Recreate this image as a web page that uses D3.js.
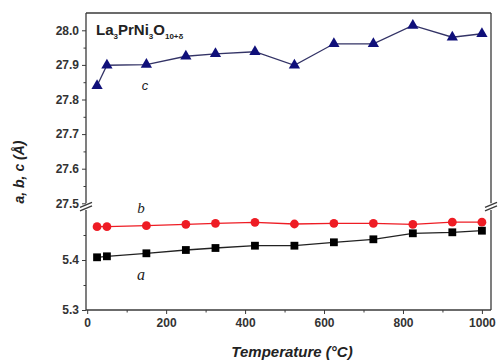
<!DOCTYPE html>
<html>
<head>
<meta charset="utf-8">
<script src="https://cdn.jsdelivr.net/npm/d3@7"></script>
<style>
  body { margin: 0; background: #fff; }
  svg { display: block; }
  text { font-family: "Liberation Sans", Arial, sans-serif; }
</style>
</head>
<body>
<div id="chart"></div>
<script>
// Data
const temps = [25, 50, 150, 250, 325, 425, 525, 625, 725, 825, 925, 1000];
const cValues = [27.840, 27.899, 27.901, 27.925, 27.932, 27.938, 27.899, 27.961, 27.961, 28.014, 27.980, 27.990];
const bValues = [5.4666, 5.4666, 5.4686, 5.4714, 5.4734, 5.4754, 5.4720, 5.4734, 5.4734, 5.4714, 5.4756, 5.4756];
const aValues = [5.4054, 5.4074, 5.4134, 5.4200, 5.4240, 5.4286, 5.4286, 5.4354, 5.4414, 5.4534, 5.4554, 5.4586];
const xTicks = [0, 200, 400, 600, 800, 1000];
const yTopTicks = [27.5, 27.6, 27.7, 27.8, 27.9, 28.0];
const yBotTicks = [5.3, 5.4];

const W = 498, H = 361;
const plotLeft = 86, plotRight = 491, plotTop = 13, plotBottom = 310;
const breakTop = 203.3, breakBot = 210;

const svg = d3.select('#chart').append('svg')
    .attr('width', W)
    .attr('height', H);

// Scales
const x = d3.scaleLinear().domain([-3, 1023]).range([plotLeft, plotRight]);
const yTop = d3.scaleLinear().domain([27.5, 28.05]).range([breakTop, plotTop]);
const yBot = d3.scaleLinear().domain([5.3, 5.5]).range([plotBottom, breakBot]);

const axisColor = '#3a3a3a';
const labelColor = '#333';

// X axis (bottom)
const xAxis = svg.append('g')
    .attr('transform', `translate(0,${plotBottom})`)
    .call(d3.axisBottom(x).tickValues(xTicks).tickSize(4).tickSizeOuter(0).tickPadding(4).tickFormat(d3.format('d')));
xAxis.select('.domain').remove();
svg.append('g')
    .attr('transform', `translate(0,${plotBottom})`)
    .call(d3.axisBottom(x).tickValues([100, 300, 500, 700, 900]).tickSize(2.5).tickFormat(''))
    .select('.domain').remove();

// Y axis upper part
const yAxisTop = svg.append('g')
    .attr('transform', `translate(${plotLeft},0)`)
    .call(d3.axisLeft(yTop).tickValues(yTopTicks).tickSize(4).tickPadding(3).tickFormat(d3.format('.1f')));
yAxisTop.select('.domain').remove();
svg.append('g')
    .attr('transform', `translate(${plotLeft},0)`)
    .call(d3.axisLeft(yTop).tickValues([27.55, 27.65, 27.75, 27.85, 27.95]).tickSize(2.5).tickFormat(''))
    .select('.domain').remove();

// Y axis lower part
const yAxisBot = svg.append('g')
    .attr('transform', `translate(${plotLeft},0)`)
    .call(d3.axisLeft(yBot).tickValues(yBotTicks).tickSize(4).tickPadding(3).tickFormat(d3.format('.1f')));
yAxisBot.select('.domain').remove();
svg.append('g')
    .attr('transform', `translate(${plotLeft},0)`)
    .call(d3.axisLeft(yBot).tickValues([5.35, 5.45]).tickSize(2.5).tickFormat(''))
    .select('.domain').remove();

svg.selectAll('.tick line').attr('stroke', axisColor).attr('stroke-width', 1);
svg.selectAll('.tick text')
    .attr('fill', labelColor)
    .style('font-size', '12px')
    .style('font-weight', 'bold');

// Frame with breaks on left and right sides
const frame = svg.append('g')
    .attr('stroke', axisColor)
    .attr('stroke-width', 1.3)
    .attr('fill', 'none');
frame.append('line').attr('x1', plotLeft).attr('x2', plotRight).attr('y1', plotTop).attr('y2', plotTop);
frame.append('line').attr('x1', plotLeft).attr('x2', plotRight).attr('y1', plotBottom).attr('y2', plotBottom);
[plotLeft, plotRight].forEach(xx => {
    frame.append('line').attr('x1', xx).attr('x2', xx).attr('y1', plotTop).attr('y2', breakTop);
    frame.append('line').attr('x1', xx).attr('x2', xx).attr('y1', breakBot).attr('y2', plotBottom);
    // break marks //
    const ym = (breakTop + breakBot) / 2;
    [-1.8, 1.8].forEach(off => {
        frame.append('line')
            .attr('x1', xx - 6).attr('y1', ym + off + 2.5)
            .attr('x2', xx + 6).attr('y2', ym + off - 2.5);
    });
});

// Series
const seriesC = temps.map((t, i) => ({ t, v: cValues[i] }));
const seriesB = temps.map((t, i) => ({ t, v: bValues[i] }));
const seriesA = temps.map((t, i) => ({ t, v: aValues[i] }));

const lineTop = d3.line().x(d => x(d.t)).y(d => yTop(d.v));
const lineBot = d3.line().x(d => x(d.t)).y(d => yBot(d.v));

const navy = '#10107a';
const red = '#ee1c24';

svg.append('path').datum(seriesC).attr('d', lineTop)
    .attr('fill', 'none').attr('stroke', '#333366').attr('stroke-width', 1.3);
svg.selectAll('.tri').data(seriesC).enter().append('path')
    .attr('class', 'tri')
    .attr('d', d3.symbol().type(d3.symbolTriangle).size(55))
    .attr('transform', d => `translate(${x(d.t)},${yTop(d.v)})`)
    .attr('fill', navy);

svg.append('path').datum(seriesB).attr('d', lineBot)
    .attr('fill', 'none').attr('stroke', red).attr('stroke-width', 1.3);
svg.selectAll('.dot').data(seriesB).enter().append('circle')
    .attr('class', 'dot')
    .attr('cx', d => x(d.t))
    .attr('cy', d => yBot(d.v))
    .attr('r', 4.4)
    .attr('fill', red);

svg.append('path').datum(seriesA).attr('d', lineBot)
    .attr('fill', 'none').attr('stroke', '#222').attr('stroke-width', 1.3);
svg.selectAll('.sq').data(seriesA).enter().append('rect')
    .attr('class', 'sq')
    .attr('x', d => x(d.t) - 3.9)
    .attr('y', d => yBot(d.v) - 3.9)
    .attr('width', 7.8)
    .attr('height', 7.8)
    .attr('fill', '#000');

// Series labels
svg.append('text')
    .attr('x', 145).attr('y', 90)
    .attr('text-anchor', 'middle')
    .style('font-family', '"Liberation Sans", Arial, sans-serif')
    .style('font-size', '13px')
    .style('font-style', 'italic')
    .attr('fill', '#222')
    .text('c');
svg.append('text')
    .attr('x', 141).attr('y', 213)
    .attr('text-anchor', 'middle')
    .style('font-family', '"Liberation Serif", "Times New Roman", serif')
    .style('font-size', '15px')
    .style('font-style', 'italic')
    .attr('fill', '#222')
    .text('b');
svg.append('text')
    .attr('x', 141).attr('y', 280)
    .attr('text-anchor', 'middle')
    .style('font-family', '"Liberation Serif", "Times New Roman", serif')
    .style('font-size', '16px')
    .style('font-style', 'italic')
    .attr('fill', '#222')
    .text('a');

// Compound title
const title = svg.append('text')
    .attr('x', 96).attr('y', 35)
    .style('font-size', '15px')
    .style('font-weight', 'bold')
    .attr('fill', '#222');
title.append('tspan').text('La');
title.append('tspan').attr('dy', 4).style('font-size', '8px').text('3');
title.append('tspan').attr('dy', -4).text('PrNi');
title.append('tspan').attr('dy', 4).style('font-size', '8px').text('3');
title.append('tspan').attr('dy', -4).text('O');
title.append('tspan').attr('dy', 4).style('font-size', '8px').text('10+δ');

// Axis titles
svg.append('text')
    .attr('x', 292).attr('y', 357)
    .attr('text-anchor', 'middle')
    .style('font-size', '15px')
    .style('font-weight', 'bold')
    .style('font-style', 'italic')
    .attr('fill', '#222')
    .text('Temperature (°C)');

svg.append('text')
    .attr('transform', 'translate(24,172) rotate(-90)')
    .attr('text-anchor', 'middle')
    .style('font-size', '14px')
    .style('font-weight', 'bold')
    .style('font-style', 'italic')
    .attr('fill', '#222')
    .text('a, b, c (Å)');
</script>
</body>
</html>
